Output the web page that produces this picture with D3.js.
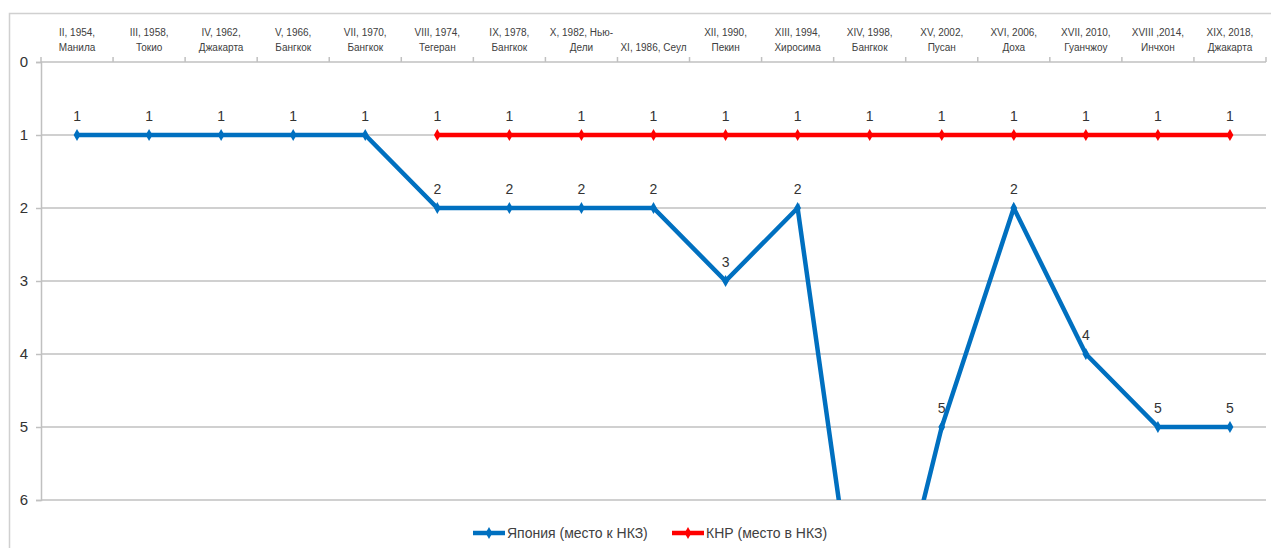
<!DOCTYPE html>
<html>
<head>
<meta charset="utf-8">
<script src="https://cdn.jsdelivr.net/npm/d3@7"></script>
<style>
  html, body { margin: 0; padding: 0; background: #fff; }
  svg { display: block; font-family: "Liberation Sans", Arial, sans-serif; }
</style>
</head>
<body>
<svg id="chart" width="1271" height="548"></svg>
<script>
// Asian Games: host edition, year and city
const categories = [
  "II, 1954, Манила", "III, 1958, Токио", "IV, 1962, Джакарта", "V, 1966, Бангкок",
  "VII, 1970, Бангкок", "VIII, 1974, Тегеран", "IX, 1978, Бангкок", "X, 1982, Нью-Дели",
  "XI, 1986, Сеул", "XII, 1990, Пекин", "XIII, 1994, Хиросима", "XIV, 1998, Бангкок",
  "XV, 2002, Пусан", "XVI, 2006, Доха", "XVII, 2010, Гуанчжоу", "XVIII ,2014, Инчхон",
  "XIX, 2018, Джакарта"
];

// Category labels as they wrap on two lines
const tickLines = [
  ["II, 1954,", "Манила"], ["III, 1958,", "Токио"], ["IV, 1962,", "Джакарта"],
  ["V, 1966,", "Бангкок"], ["VII, 1970,", "Бангкок"], ["VIII, 1974,", "Тегеран"],
  ["IX, 1978,", "Бангкок"], ["X, 1982, Нью-", "Дели"], ["", "XI, 1986, Сеул"],
  ["XII, 1990,", "Пекин"], ["XIII, 1994,", "Хиросима"], ["XIV, 1998,", "Бангкок"],
  ["XV, 2002,", "Пусан"], ["XVI, 2006,", "Доха"], ["XVII, 2010,", "Гуанчжоу"],
  ["XVIII ,2014,", "Инчхон"], ["XIX, 2018,", "Джакарта"]
];

// Place in the unofficial medal table
const japanRank = [1, 1, 1, 1, 1, 2, 2, 2, 2, 3, 2, 9, 5, 2, 4, 5, 5];
const chinaRank = [null, null, null, null, null, 1, 1, 1, 1, 1, 1, 1, 1, 1, 1, 1, 1];

const yTicks = [0, 1, 2, 3, 4, 5, 6];

const seriesNames = ["Япония (место к НКЗ)", "КНР (место в НКЗ)"];
const seriesColors = ["#0070c0", "#ff0000"];

const svg = d3.select("#chart");

// outer chart frame (extends past the window on the right and bottom)
svg.append("rect")
  .attr("x", 9.5).attr("y", 13.5)
  .attr("width", 1300).attr("height", 600)
  .attr("fill", "none").attr("stroke", "#d0d0d0").attr("stroke-width", 1.5);

const plot = { left: 41, right: 1266, top: 62, bottom: 500 };

const x = d3.scaleBand().domain(categories).range([plot.left, plot.right]).padding(0);
const cx = c => x(c) + x.bandwidth() / 2;
const y = d3.scaleLinear().domain([0, 6]).range([plot.top, plot.bottom]);

// horizontal gridlines
svg.append("g")
  .selectAll("line")
  .data(yTicks.filter(t => t > 0))
  .join("line")
  .attr("x1", plot.left).attr("x2", plot.right)
  .attr("y1", d => y(d)).attr("y2", d => y(d))
  .attr("stroke", "#c0c0c0").attr("stroke-width", 1.5);

// left value axis
const yAxis = svg.append("g")
  .attr("transform", `translate(${plot.left},0)`)
  .call(d3.axisLeft(y).tickValues(yTicks).tickFormat(d3.format("d")).tickSize(5).tickPadding(8));
yAxis.select(".domain").attr("stroke", "#c0c0c0").attr("stroke-width", 1.5);
yAxis.selectAll(".tick line").attr("stroke", "#c0c0c0").attr("stroke-width", 1.5);
yAxis.selectAll(".tick text")
  .attr("font-size", 15).attr("fill", "#333")
  .attr("font-family", "'Liberation Sans', Arial, sans-serif");

// top category axis with tick marks at band boundaries
const xAxis = svg.append("g")
  .attr("transform", `translate(0,${plot.top})`)
  .call(d3.axisTop(x).tickSize(0).tickFormat(""));
xAxis.select(".domain").attr("stroke", "#c0c0c0").attr("stroke-width", 1.5)
  .attr("d", `M${plot.left},0H${plot.right}`);
xAxis.append("g")
  .selectAll("line")
  .data(categories.map(c => x(c) + x.bandwidth()).concat([plot.left]))
  .join("line")
  .attr("x1", d => d).attr("x2", d => d)
  .attr("y1", 0).attr("y2", -5)
  .attr("stroke", "#c0c0c0").attr("stroke-width", 1.5);

const labels = svg.append("g")
  .attr("font-size", 10).attr("fill", "#404040").attr("text-anchor", "middle");
categories.forEach((c, i) => {
  tickLines[i].forEach((line, j) => {
    if (!line) return;
    labels.append("text")
      .attr("x", cx(c))
      .attr("y", j === 0 ? 32 : 47)
      .attr("dy", "0.35em")
      .text(line);
  });
});

// clip lines to the plotting area
svg.append("defs").append("clipPath").attr("id", "plot-clip")
  .append("rect")
  .attr("x", plot.left).attr("y", plot.top - 10)
  .attr("width", plot.right - plot.left).attr("height", plot.bottom - plot.top + 10);

const series = [japanRank, chinaRank];
const line = d3.line()
  .defined(d => d.v !== null)
  .x(d => cx(d.c))
  .y(d => y(d.v));

const diamond = d3.symbol().type(d3.symbolDiamond).size(40);

series.forEach((vals, s) => {
  const pts = categories.map((c, i) => ({ c, v: vals[i] }));
  const g = svg.append("g").attr("clip-path", "url(#plot-clip)");
  g.append("path")
    .datum(pts)
    .attr("d", line)
    .attr("fill", "none")
    .attr("stroke", seriesColors[s])
    .attr("stroke-width", 4.5)
    .attr("stroke-linejoin", "miter");
  const visible = pts.filter(d => d.v !== null && d.v <= 6);
  g.selectAll("path.marker")
    .data(visible)
    .join("path")
    .attr("class", "marker")
    .attr("d", diamond)
    .attr("transform", d => `translate(${cx(d.c)},${y(d.v)})`)
    .attr("fill", seriesColors[s]);
  svg.append("g")
    .attr("font-size", 14).attr("fill", "#333").attr("text-anchor", "middle")
    .selectAll("text")
    .data(visible)
    .join("text")
    .attr("x", d => cx(d.c))
    .attr("y", d => y(d.v) - 14)
    .text(d => d.v);
});

// legend
const legendItems = [
  { x: 473, name: seriesNames[0], color: seriesColors[0] },
  { x: 672, name: seriesNames[1], color: seriesColors[1] }
];
const lg = svg.append("g").attr("transform", "translate(0,533)");
legendItems.forEach(it => {
  lg.append("line")
    .attr("x1", it.x).attr("x2", it.x + 32)
    .attr("y1", 0).attr("y2", 0)
    .attr("stroke", it.color).attr("stroke-width", 4.5);
  lg.append("path")
    .attr("d", diamond)
    .attr("transform", `translate(${it.x + 16},0)`)
    .attr("fill", it.color);
  lg.append("text")
    .attr("x", it.x + 34).attr("y", 0).attr("dy", "0.35em")
    .attr("font-size", 14).attr("fill", "#404040")
    .text(it.name);
});
</script>
</body>
</html>
